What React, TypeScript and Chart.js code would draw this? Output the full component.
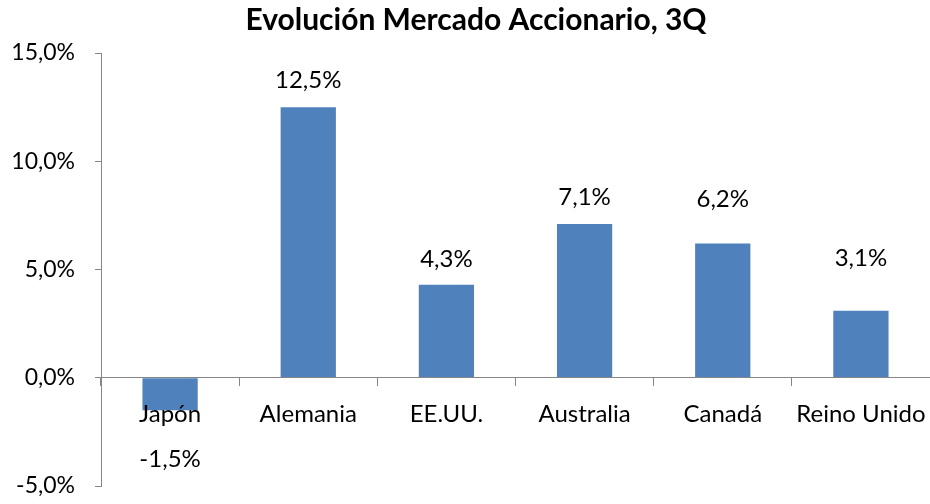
import React, { useEffect, useRef } from "react";
import { Chart, registerables } from "chart.js";

Chart.register(...registerables);

const categories = ["Japón", "Alemania", "EE.UU.", "Australia", "Canadá", "Reino Unido"];
const values = [-1.5, 12.5, 4.3, 7.1, 6.2, 3.1];
const yTicks = [-5, 0, 5, 10, 15];
const labelOffsets = [49, 27, 25, 27, 44, 52];

const fmt = (v: number) => v.toFixed(1).replace(".", ",") + "%";
const FONT = "Lato, 'Noto Sans', sans-serif";

const dataLabels = {
  id: "dataLabels",
  afterLayout(chart: any) {
    if (chart.titleBlock) chart.titleBlock.left = 22;
  },
  afterDraw(chart: any) {
    const ctx = chart.ctx;
    const meta = chart.getDatasetMeta(0);
    ctx.save();
    ctx.font = `24px ${FONT}`;
    ctx.fillStyle = "#000";
    ctx.textAlign = "center";
    ctx.textBaseline = "middle";
    meta.data.forEach((bar: any, i: number) => {
      const v = values[i];
      const off = labelOffsets[i];
      const y = v >= 0 ? bar.y - off : bar.y + off;
      ctx.fillText(fmt(v), bar.x, y);
    });
    ctx.restore();
  },
};

export default function App() {
  const ref = useRef<HTMLCanvasElement>(null);
  useEffect(() => {
    document.body.style.margin = "0";
    const chart = new Chart(ref.current!, {
      type: "bar",
      data: {
        labels: categories,
        datasets: [
          {
            data: values,
            backgroundColor: "#4F81BD",
            barPercentage: 0.4,
            categoryPercentage: 1,
          },
        ],
      },
      options: {
        animation: false,
        responsive: false,
        layout: { padding: { left: 0, right: 0, top: 0, bottom: 18 } },
        plugins: {
          legend: { display: false },
          tooltip: { enabled: false },
          title: {
            display: true,
            text: "Evolución Mercado Accionario, 3Q",
            color: "#000",
            font: { family: FONT, size: 30, weight: "bold", lineHeight: 1.2 },
            padding: { top: 2, bottom: 15 },
          },
        },
        scales: {
          x: {
            position: { y: 0 } as any,
            offset: true,
            afterFit: (s: any) => {
              s.paddingTop = 0;
              s.paddingBottom = 0;
              s.paddingLeft = 0;
              s.paddingRight = 0;
            },
            grid: {
              display: true,
              drawOnChartArea: false,
              drawTicks: true,
              tickLength: 8,
              offset: true,
              color: "#868686",
              z: 1,
            },
            border: { display: true, color: "#868686", width: 1, z: 1 },
            ticks: {
              color: "#000",
              padding: 14,
              maxRotation: 0,
              autoSkip: false,
              z: 1,
              font: { family: FONT, size: 24 },
            },
          },
          y: {
            min: -5,
            max: 15,
            afterFit: (s: any) => {
              s.width = 101;
              s.paddingTop = 0;
              s.paddingBottom = 0;
            },
            afterBuildTicks: (s: any) => {
              s.ticks = yTicks.map((v) => ({ value: v }));
            },
            grid: {
              display: true,
              drawOnChartArea: false,
              drawTicks: true,
              tickLength: 6,
              color: "#868686",
            },
            border: { display: true, color: "#868686", width: 1 },
            ticks: {
              color: "#000",
              padding: 20,
              font: { family: FONT, size: 23 },
              callback: (v: any) => fmt(Number(v)),
            },
          },
        },
      },
      plugins: [dataLabels],
    });
    return () => chart.destroy();
  }, []);
  return <canvas ref={ref} width={930} height={504} style={{ display: "block" }} />;
}
